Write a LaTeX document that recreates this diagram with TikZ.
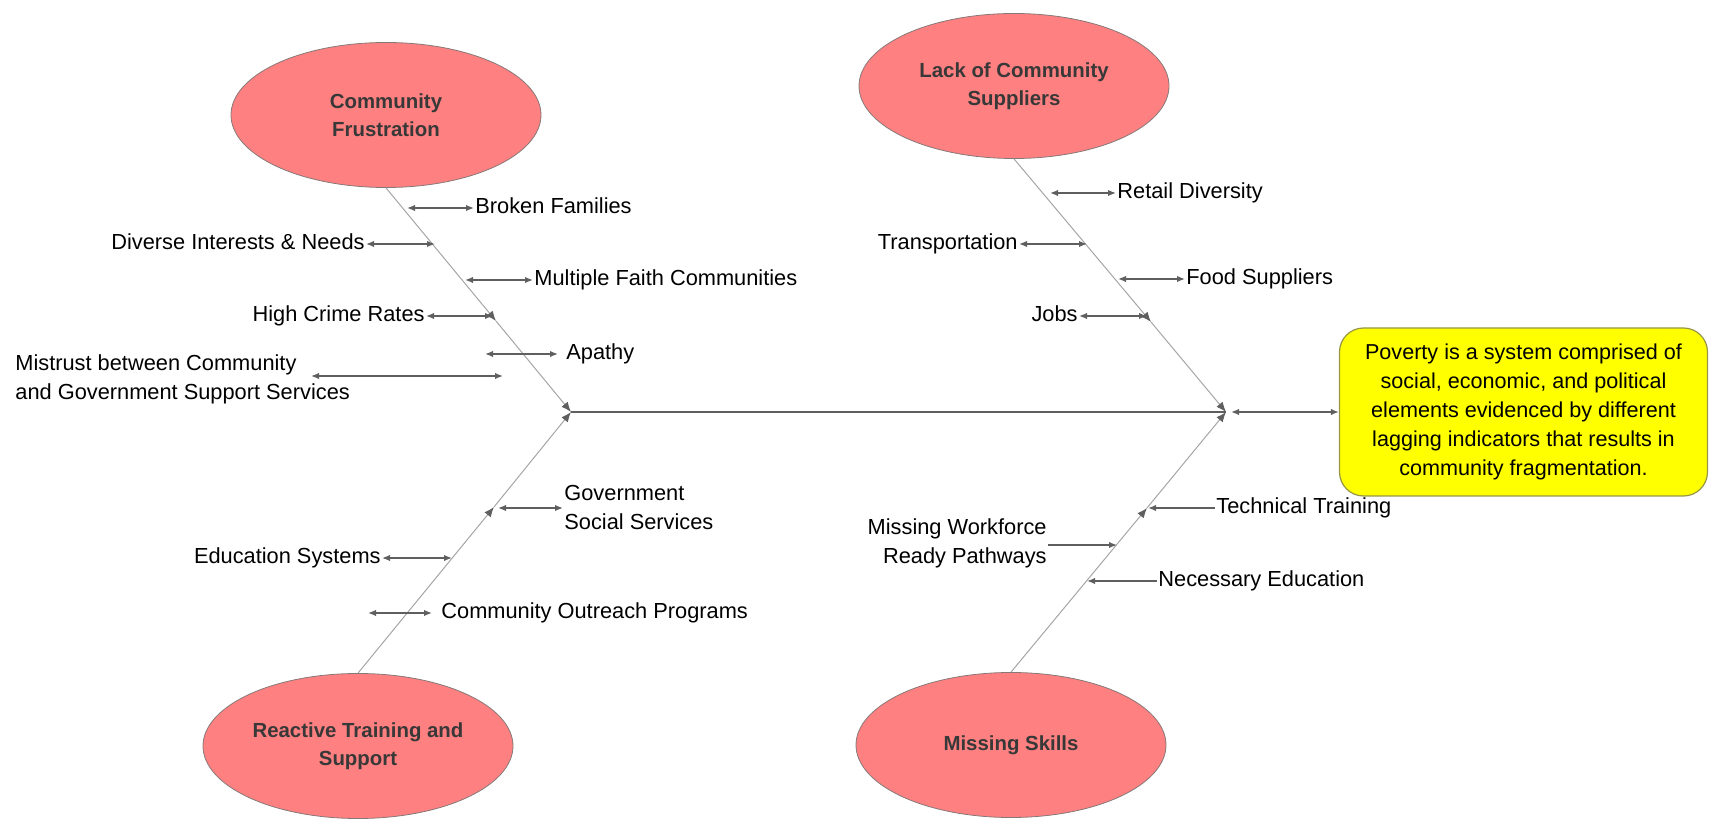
\documentclass[tikz,border=0pt]{standalone}
\usepackage{fontspec}
\setmainfont{Liberation Sans}
\usetikzlibrary{arrows.meta, positioning, shapes.geometric}

\definecolor{causefill}{RGB}{255,128,128}
\definecolor{causeedge}{RGB}{135,120,120}
\definecolor{effectfill}{RGB}{255,255,0}
\definecolor{effectedge}{RGB}{150,150,70}
\definecolor{bonegray}{RGB}{165,165,165}
\definecolor{ribgray}{RGB}{95,95,95}

\tikzset{
  cause/.style={ellipse, draw=causeedge, line width=0.4pt, fill=causefill,
    minimum width=155pt, minimum height=72.5pt, inner sep=0pt, align=center,
    text=black!78, font=\bfseries\fontsize{10.2pt}{14pt}\selectfont},
  effect/.style={rectangle, rounded corners=12pt, draw=effectedge, line width=0.6pt,
    fill=effectfill, minimum width=184pt, minimum height=84pt, align=center,
    font=\fontsize{10.8pt}{14.4pt}\selectfont},
  lbl/.style={inner sep=0.5pt, text height=8pt, text depth=2.5pt,
    font=\fontsize{10.9pt}{14.5pt}\selectfont},
  lbltwo/.style={inner sep=0.5pt, font=\fontsize{10.9pt}{14.5pt}\selectfont},
  bone/.style={draw=bonegray, line width=0.5pt,
    -{Latex[length=5pt,width=4pt,color=ribgray]}},
  rib/.style={draw=ribgray, line width=0.7pt},
}

\begin{document}
\begin{tikzpicture}[x=0.5pt, y=-0.5pt, >={Latex[length=4pt,width=3.2pt]}]
    \path[use as bounding box] (0,0) rectangle (1709,823);

    % causes
    \node[cause] (cf)  at (386,115)  {Community\\Frustration};
    \node[cause] (lcs) at (1014,86)  {Lack of Community\\Suppliers};
    \node[cause] (rts) at (358,746)  {Reactive Training and\\Support};
    \node[cause] (ms)  at (1011,745) {Missing Skills};

    % effect
    \node[effect] (pov) at (1523.5,412) {Poverty is a system comprised of\\social, economic, and political\\elements evidenced by different\\lagging indicators that results in\\community fragmentation.};

    % spine
    \coordinate (jl) at (571,412);
    \coordinate (jr) at (1226,412);
    \coordinate (jx) at (1231,412);
    \draw[rib] (jl) -- (jr);
    \draw[rib, <->] (jx) -- (pov.west);

    % bones
    \coordinate (ka) at (496,321);
    \coordinate (kb) at (1151,322);
    \coordinate (kc) at (494,507);
    \coordinate (kd) at (1147,508);
    \foreach \c/\k/\j in {cf.south/ka/jl, lcs.south/kb/jr, rts.north/kc/jl, ms.north/kd/jr}{
        \draw[bone] (\c) -- (\k);
        \draw[bone] (\k) -- (\j);
    }

    % ribs, text on the right
    \foreach \nm/\xa/\xb/\yy/\txt in {bf/407/474/208/Broken Families,
        mf/465/533/280/Multiple Faith Communities,
        rd/1050/1116/193/Retail Diversity,
        fs/1118/1185/279/Food Suppliers}{
        \coordinate (\nm0) at (\xa,\yy);
        \node[lbl, anchor=west] (\nm) at (\xb,\yy) {\txt};
        \draw[rib, <->] (\nm0) -- (\nm);
    }

    % ribs, text on the left
    \foreach \nm/\xa/\xb/\yy/\txt in {di/435/366/244/Diverse Interests \& Needs,
        hc/493/426/316/High Crime Rates,
        tr/1087/1019/244/Transportation,
        jb/1147/1079/316/Jobs,
        es/452/382/558/Education Systems}{
        \coordinate (\nm0) at (\xa,\yy);
        \node[lbl, anchor=east] (\nm) at (\xb,\yy) {\txt};
        \draw[rib, <->] (\nm0) -- (\nm);
    }

    \node[lbl, anchor=west] (ap) at (565,354) {Apathy};
    \coordinate (ap0) at (485,354);
    \draw[rib, <->, shorten >=3.5pt] (ap0) -- (ap);

    \node[lbl, anchor=west] (co) at (440,613) {Community Outreach Programs};
    \coordinate (co0) at (368,613);
    \draw[rib, <->, shorten >=4pt] (co0) -- (co);

    \node[lbltwo, anchor=west, align=left] (mt) at (14,379) {Mistrust between Community\\and Government Support Services};
    \coordinate (mt0) at (503,376);
    \coordinate (mt1) at (311,376);
    \draw[rib, <->] (mt1) -- (mt0);

    \node[lbltwo, anchor=west, align=left] (gs) at (563,507) {Government\\Social Services};
    \coordinate (gs0) at (498,508);
    \draw[rib, <->] (gs0) -- (gs0 -| gs.west);

    % ribs into the bone
    \node[lbl, anchor=west] (tt) at (1215,508) {Technical Training};
    \coordinate (tt0) at (1148,508);
    \draw[rib, ->] (tt) -- (tt0);

    \node[lbl, anchor=west] (ne) at (1157,581) {Necessary Education};
    \coordinate (ne0) at (1087,581);
    \draw[rib, ->] (ne) -- (ne0);

    \node[lbltwo, anchor=east, align=right] (mw) at (1048,543) {Missing Workforce\\Ready Pathways};
    \coordinate (mw0) at (1117,545);
    \draw[rib, ->] (mw0 -| mw.east) -- (mw0);

\end{tikzpicture}
\end{document}
